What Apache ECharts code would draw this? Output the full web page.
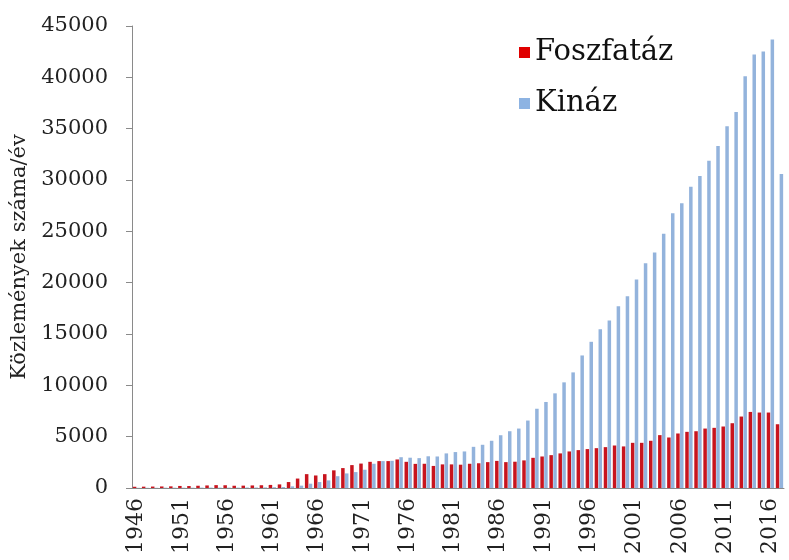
<!DOCTYPE html>
<html>
<head>
<meta charset="utf-8">
<script src="https://cdn.jsdelivr.net/npm/echarts@6/dist/echarts.min.js"></script>
<style>html,body{margin:0;padding:0;background:#fff}#c{width:789px;height:560px}</style>
</head>
<body>
<div id="c"></div>
<script>
const years = [];
for (let y = 1946; y <= 2017; y++) years.push(String(y));

const foszfataz = [120,130,140,150,160,200,190,220,250,280,270,220,230,250,270,
  300,350,580,920,1350,1220,1350,1720,1940,2230,2380,2550,2620,2620,2780,
  2550,2350,2360,2150,2300,2300,2270,2360,2410,2520,2640,2520,2560,2690,2940,
  3070,3200,3370,3560,3690,3790,3880,3980,4140,4050,4400,4400,4600,5150,4920,
  5310,5470,5530,5790,5860,5990,6310,6960,7410,7350,7350,6210];

const kinaz = [20,20,20,30,30,30,30,40,40,40,40,40,50,50,60,
  80,100,160,230,420,580,740,1150,1420,1550,1780,2360,2620,2650,3000,
  2950,2910,3090,3070,3370,3500,3560,4010,4210,4600,5140,5530,5790,6570,7720,
  8380,9220,10290,11260,12910,14240,15470,16310,17700,18670,20320,21880,22950,24760,26770,
  27740,29350,30390,31870,33300,35240,36630,40100,42230,42520,43690,30580];

const yMin = 0, yMax = 45000, yStep = 5000;
const xLabelEvery = 5;
const seriesNames = ['Foszfatáz', 'Kináz'];
const yAxisTitle = 'Közlemények száma/év';

const font = 'DejaVu Serif';
const chart = echarts.init(document.getElementById('c'));
chart.setOption({
  animation: false,
  backgroundColor: '#ffffff',
  grid: { left: 132, right: 5, top: 26, bottom: 72 },
  legend: {
    orient: 'vertical',
    left: 514, top: 33,
    itemWidth: 11, itemHeight: 11, itemGap: 22,
    icon: 'rect',
    textStyle: { fontFamily: font, fontSize: 29, color: '#111' },
    data: [
      { name: seriesNames[0], itemStyle: { color: '#e00000' } },
      { name: seriesNames[1], itemStyle: { color: '#8db3e2' } }
    ]
  },
  xAxis: {
    type: 'category',
    data: years,
    boundaryGap: true,
    axisLine: { lineStyle: { color: '#8a8a8a', width: 1 } },
    axisTick: { interval: xLabelEvery - 1, length: 6, lineStyle: { color: '#8a8a8a' } },
    axisLabel: { interval: xLabelEvery - 1, rotate: 90, margin: 10,
      fontFamily: font, fontSize: 22, color: '#222' }
  },
  yAxis: {
    type: 'value',
    min: yMin, max: yMax, interval: yStep,
    name: yAxisTitle,
    nameLocation: 'middle',
    nameGap: 80,
    nameTextStyle: { fontFamily: font, fontSize: 21, color: '#222' },
    splitLine: { show: false },
    axisLine: { show: true, lineStyle: { color: '#8a8a8a', width: 1 } },
    axisTick: { show: true, length: 6, lineStyle: { color: '#8a8a8a' } },
    axisLabel: { margin: 24, fontFamily: font, fontSize: 21, color: '#222',
      formatter: function (v) { return String(v); } }
  },
  series: [
    { name: seriesNames[0], type: 'bar', data: foszfataz, barWidth: 3.5, barGap: '10%',
      itemStyle: { color: '#c8141e' } },
    { name: seriesNames[1], type: 'bar', data: kinaz, barWidth: 3.5,
      itemStyle: { color: '#93b3dc' } }
  ]
});
</script>
</body>
</html>
